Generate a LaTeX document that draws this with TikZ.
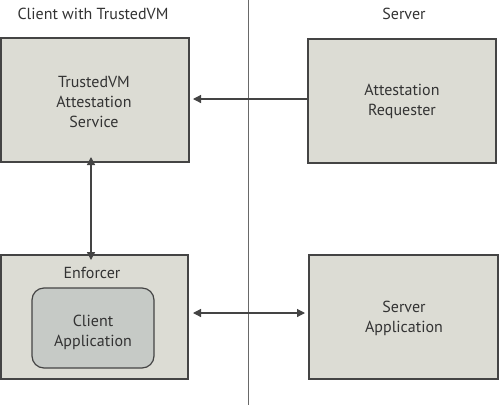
\documentclass[tikz,border=0pt]{standalone}
\usepackage{fontspec}
\setmainfont{PT Sans}
\usetikzlibrary{arrows.meta}
\definecolor{boxfill}{HTML}{DCDCD4}
\definecolor{innerfill}{HTML}{C6CAC6}
\definecolor{edge}{HTML}{444444}
\definecolor{txt}{HTML}{333333}
\tikzset{
  x=1pt,y=-1pt,
  box/.style={draw=edge,line width=1.4pt,fill=boxfill},
  inner/.style={draw=edge,line width=1.2pt,fill=innerfill,rounded corners=12pt},
  lbl/.style={text=txt,font=\fontsize{16}{20}\selectfont,align=center,inner sep=0pt},
  conn/.style={draw=edge,line width=1.2pt,-{Triangle[length=8pt,width=8pt]}},
  conn2/.style={draw=edge,line width=1.2pt,{Triangle[length=8pt,width=8pt]}-{Triangle[length=8pt,width=8pt]}}
}
\begin{document}
\begin{tikzpicture}
\useasboundingbox (0,0) rectangle (501,405);
\draw[line width=1pt,color=edge!80] (248,0) -- (248,405);
\node[lbl] (clienthdr) at (93,14) {Client with TrustedVM};
\node[lbl] (serverhdr) at (404,14) {Server};
\draw[box] (1,38) rectangle (189,162);
\node[lbl] (tas) at (94,102) {TrustedVM\\Attestation\\Service};
\coordinate (tasR) at (189,99);
\coordinate (tasB) at (91,162);
\draw[box] (308,39) rectangle (496,163);
\node[lbl] (ar) at (402,101) {Attestation\\Requester};
\coordinate (arL) at (308,99);
\draw[box] (1,255) rectangle (188,379);
\node[lbl] (enf) at (92,273) {Enforcer};
\coordinate (enfT) at (91,255);
\draw[inner] (32,288) rectangle (154,368);
\node[lbl] (ca) at (93,332) {Client\\Application};
\coordinate (enfR) at (188,313);
\draw[box] (309,255) rectangle (498,379);
\node[lbl] (sa) at (404,318) {Server\\Application};
\coordinate (saL) at (309,313);
\draw[conn] (arL) -- ([xshift=4pt]tasR);
\draw[conn2] ([yshift=5pt]tasB) -- ([yshift=-5pt]enfT);
\draw[conn2] ([xshift=5pt]enfR) -- ([xshift=-4pt]saL);
\end{tikzpicture}
\end{document}
